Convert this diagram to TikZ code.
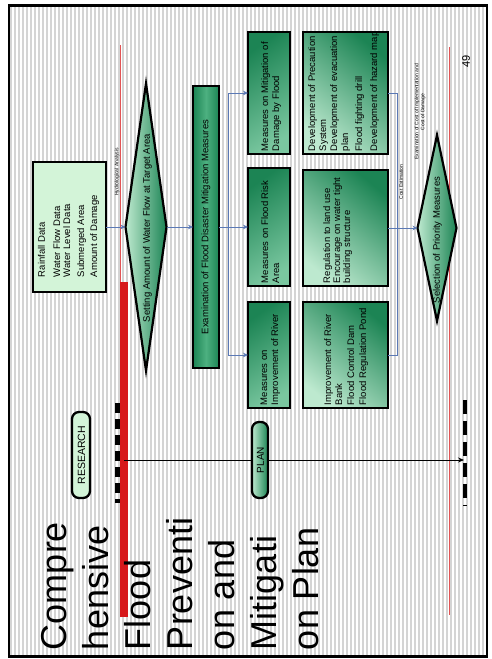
\documentclass[tikz,border=0pt]{standalone}
\usepackage{fontspec}
\setmainfont{Liberation Sans}
\usetikzlibrary{shapes.geometric,arrows.meta}
\definecolor{palegreen}{HTML}{D3F4D8}
\definecolor{deepgreen}{HTML}{1C8454}
\definecolor{midgreen}{HTML}{4DB080}
\definecolor{softgreen}{HTML}{BDE9CF}
\definecolor{flowblue}{HTML}{5B79B5}
\definecolor{tplred}{HTML}{D7191C}
\definecolor{stripegray}{HTML}{D4D4D4}
\begin{document}
\begin{tikzpicture}[x=1pt,y=-1pt,
  every node/.style={inner sep=0pt, outer sep=0pt},
  lab/.style={rotate=90, anchor=base west},
  ctr/.style={rotate=90, anchor=center},
  box/.style={draw=black, line width=2.3pt, rectangle},
  mbox/.style={box, top color=deepgreen, bottom color=midgreen!60!softgreen,
    shading angle=35, minimum width=42pt},
  dbox/.style={box, top color=deepgreen, bottom color=softgreen,
    shading angle=-40, minimum width=85pt},
  pill/.style={draw=black, line width=2.3pt, rectangle, rounded corners=7pt},
  flow/.style={draw=flowblue, line width=0.6pt, -{Stealth[length=5pt,width=4.5pt]}},
  flowline/.style={draw=flowblue, line width=0.6pt},
  big/.style={font=\fontsize{36}{40}\selectfont},
  small/.style={font=\fontsize{9.5}{11}\selectfont},
  tiny/.style={font=\fontsize{5}{6}\selectfont}]
\useasboundingbox (0,0) rectangle (491,659);
\fill[white] (0,0) rectangle (491,659);

% striped slide background
\foreach \sx in {11,15,...,485}
  \draw[stripegray, line width=1.6pt] (\sx,7) -- (\sx,655);
\draw[line width=2.5pt] (9,5.5) rectangle (487,656.5);

% template rules
\draw[tplred!75, line width=0.8pt] (120,45) -- (120,282);
\fill[tplred] (120,282) rectangle (128,617);
\draw[tplred!75, line width=0.8pt] (449,47) -- (449,615);

% title, one node per line
\foreach \bx/\txt [count=\k] in {66/Compre, 108/hensive, 150/Flood,
    192/Preventi, 234/on and, 276/Mitigati, 318/on Plan}
  \node[lab, big] (title\k) at (\bx,650) {\txt};

\node[ctr, font=\fontsize{11}{12}\selectfont] (pageno) at (466,61) {49};

% research / plan timeline
\draw[line width=5pt, dash pattern=on 10pt off 6pt] (117.5,403) -- (117.5,503);
\draw[line width=4pt, dash pattern=on 14pt off 7pt] (465,400) -- (465,506);
\coordinate (tstart) at (124,460);
\coordinate (tend) at (464,460);
\draw[line width=0.7pt, -{Stealth[length=6pt,width=5pt]}] (tstart) -- (tend);

\node[pill, fill=palegreen, minimum width=18pt, minimum height=86pt] (research) at (81,455) {};
\node[ctr, font=\fontsize{10.5}{12}\selectfont] (researcht) at (81.5,455) {RESEARCH};
\node[pill, left color=softgreen, right color=deepgreen, minimum width=16pt, minimum height=76pt] (plan) at (260,460) {};
\node[ctr, font=\fontsize{10}{12}\selectfont] (plant) at (260.5,460) {PLAN};

% input data
\node[box, fill=palegreen, minimum width=73pt, minimum height=130pt] (rain) at (69.5,227) {};
\foreach \bx/\txt [count=\k] in {45/Rainfall Data, 60/Water Flow Data,
    70/Water Level Data, 84/Submerged Area, 97/Amount of Damage}
  \node[lab, small] (raint\k) at (\bx,277) {\txt};

% target flow
\node[diamond, draw, line width=2.2pt, left color=softgreen, right color=deepgreen,
  minimum width=41pt, minimum height=287pt] (dia1) at (146,227) {};
\node[ctr, small] (dia1t) at (147.5,228) {Setting Amount of Water Flow at Target Area};
\node[ctr, tiny] (hydro) at (117,172) {Hydrological Analysis};

% examination of measures
\node[box, left color=deepgreen, right color=deepgreen, middle color=midgreen,
  minimum width=26pt, minimum height=282pt] (exam) at (206,227) {};
\node[ctr, small] (examt) at (206,227) {Examination of Flood Disaster Mitigation Measures};

% measure groups
\node[mbox, minimum height=122pt] (m1) at (269,93) {};
\node[mbox, minimum height=118pt] (m2) at (269,227) {};
\node[mbox, minimum height=106pt] (m3) at (269,355) {};
\node[lab, small] (m1a) at (268,151) {Measures on Mitigation of};
\node[lab, small] (m1b) at (279,151) {Damage by Flood};
\node[lab, small] (m2a) at (268,283) {Measures on Flood Risk};
\node[lab, small] (m2b) at (279,283) {Area};
\node[lab, small] (m3a) at (267,405) {Measures on};
\node[lab, small] (m3b) at (278,405) {Improvement of River};

% measure details
\node[dbox, minimum height=122pt] (d1) at (345.5,93) {};
\node[dbox, minimum height=116pt] (d2) at (345.5,228) {};
\node[dbox, minimum height=106pt] (d3) at (345.5,355) {};
\foreach \bx/\txt [count=\k] in {315/Development of Precaution, 326/System,
    337/Development of evacuation, 348/plan, 362/Flood fighting drill,
    377/Development of hazard map}
  \node[lab, small] (d1t\k) at (\bx,151) {\txt};
\foreach \bx/\txt [count=\k] in {330/Regulation to land use,
    340/Encourage on water tight, 350/building structure}
  \node[lab, small] (d2t\k) at (\bx,283) {\txt};
\foreach \bx/\txt [count=\k] in {331/Improvement of River, 342/Bank,
    354/Flood Control Dam, 366/Flood Regulation Pond}
  \node[lab, small] (d3t\k) at (\bx,405) {\txt};

% priority selection
\node[diamond, draw, line width=2.2pt, left color=softgreen, right color=deepgreen,
  minimum width=39pt, minimum height=186pt] (dia2) at (437,228) {};
\node[ctr, small] (dia2t) at (437.5,240) {Selection of Priority Measures};
\node[ctr, tiny] (costest) at (401,182) {Cost Estimation};
\node[ctr, tiny, align=center] (costcmp) at (420,112)
  {Examination of Cost of Implementation and\\Cost of Damage};

% connectors
\coordinate (split) at (228,227);
\coordinate (join) at (397,228);
\draw[flow] (rain) -- (dia1);
\draw[flow] (dia1) -- (exam);
\draw[flowline] (exam) -- (split);
\draw[flowline] (split |- m1) -- (split |- m3);
\draw[flow] (split |- m1) -- (m1);
\draw[flow] (split |- m2) -- (m2);
\draw[flow] (split |- m3) -- (m3);
\draw[flowline] (d1) -- (join |- d1) -- (join |- d3) -- (d3);
\draw[flow] (d2) -- (dia2);
\end{tikzpicture}
\end{document}
